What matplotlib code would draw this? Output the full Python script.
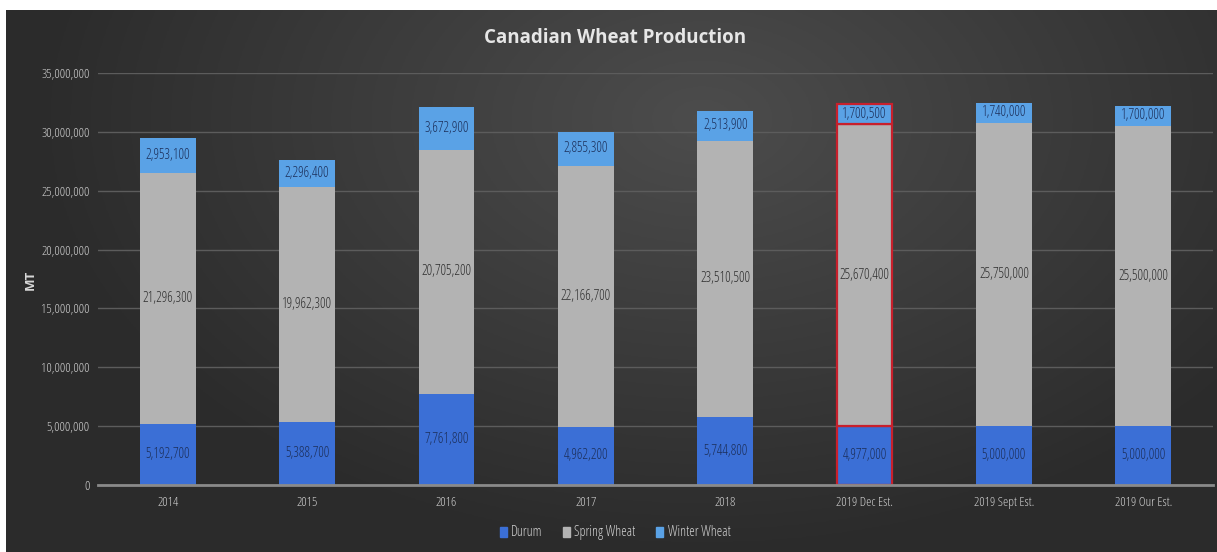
import numpy as np
import matplotlib.pyplot as plt
from matplotlib.ticker import FuncFormatter

years = ["2014", "2015", "2016", "2017", "2018", "2019 Dec Est.", "2019 Sept Est.", "2019 Our Est."]
durum = [5192700, 5388700, 7761800, 4962200, 5744800, 4977000, 5000000, 5000000]
spring = [21296300, 19962300, 20705200, 22166700, 23510500, 25670400, 25750000, 25500000]
winter = [2953100, 2296400, 3672900, 2855300, 2513900, 1700500, 1740000, 1700000]
highlight = "2019 Dec Est."

plt.rcParams['font.family'] = ['Open Sans', 'DejaVu Sans']
plt.rcParams['font.stretch'] = 'condensed'

fig = plt.figure(figsize=(12.17, 5.52), dpi=100, facecolor='white')

# dark gradient background panel
bg = fig.add_axes([6 / 1217, 0, 1 - 6 / 1217, 1 - 10 / 552])
gx, gy = np.meshgrid(np.linspace(-1, 1, 400), np.linspace(-1, 1, 200))
r = np.sqrt(((gx - 0.15) / 1.1) ** 2 + ((gy + 0.6) / 1.6) ** 2)
shade = 0.30 - 0.13 * np.clip(r, 0, 1)
bg.imshow(np.dstack([shade] * 3), aspect='auto', extent=[0, 1, 0, 1])
bg.axis('off')

ax = fig.add_axes([98 / 1217, 1 - 485 / 552, (1213 - 98) / 1217, (485 - 73) / 552])
ax.patch.set_alpha(0)

x = np.arange(len(years))
w = 0.4
c_durum = '#3b6fd6'
c_spring = '#b3b3b3'
c_winter = '#5aa2e6'

bottom2 = np.array(durum)
bottom3 = bottom2 + np.array(spring)
for i, yr in enumerate(years):
    ec = '#c8202c' if yr == highlight else 'none'
    lw = 1.6 if yr == highlight else 0
    ax.bar(x[i], durum[i], w, color=c_durum, edgecolor=ec, linewidth=lw, zorder=3)
    ax.bar(x[i], spring[i], w, bottom=bottom2[i], color=c_spring, edgecolor=ec, linewidth=lw, zorder=3)
    ax.bar(x[i], winter[i], w, bottom=bottom3[i], color=c_winter, edgecolor=ec, linewidth=lw, zorder=3)
    ax.text(x[i], durum[i] / 2, f"{durum[i]:,}", ha='center', va='center', fontsize=10, color='#1c2f5a', zorder=4)
    ax.text(x[i], bottom2[i] + spring[i] / 2, f"{spring[i]:,}", ha='center', va='center', fontsize=10, color='#2e2e2e', zorder=4)
    ax.text(x[i], bottom3[i] + winter[i] / 2, f"{winter[i]:,}", ha='center', va='center', fontsize=10, color='#1c2f5a', zorder=4)

ax.set_xlim(-0.5, len(years) - 0.5)
ax.set_ylim(0, 35000000)
ax.set_yticks(np.arange(0, 35000001, 5000000))
ax.yaxis.set_major_formatter(FuncFormatter(lambda v, p: f"{int(v):,}"))
ax.set_xticks(x)
ax.set_xticklabels(years)
ax.tick_params(axis='both', length=0, colors='#d0d0d0', labelsize=9.5)
ax.tick_params(axis='x', pad=8)
ax.tick_params(axis='y', pad=6)
ax.grid(axis='y', color='#5c5c5c', linewidth=1, zorder=0)
for s in ['top', 'right', 'left']:
    ax.spines[s].set_visible(False)
ax.spines['bottom'].set_color('#8a8a8a')
ax.spines['bottom'].set_linewidth(2)
ax.spines['bottom'].set_zorder(5)

fig.text(30 / 1217, 1 - 280 / 552, "MT", rotation=90, ha='center', va='center', color='#d8d8d8', fontsize=9.5, fontweight='bold')
fig.text(615 / 1217, 1 - 38 / 552, "Canadian Wheat Production", ha='center', va='center',
         color='#e6e6e6', fontsize=13.5, fontweight='bold')

handles = [plt.Rectangle((0, 0), 1, 1, color=c) for c in [c_durum, c_spring, c_winter]]
fig.legend(handles, ["Durum", "Spring Wheat", "Winter Wheat"], loc='center', bbox_to_anchor=(615 / 1217, 1 - 533 / 552),
           ncol=3, frameon=False, fontsize=10, labelcolor='#d0d0d0', handlelength=0.5, handleheight=0.7,
           handletextpad=0.3, columnspacing=1.5)

fig.savefig('out.png', dpi=100, facecolor='white')
